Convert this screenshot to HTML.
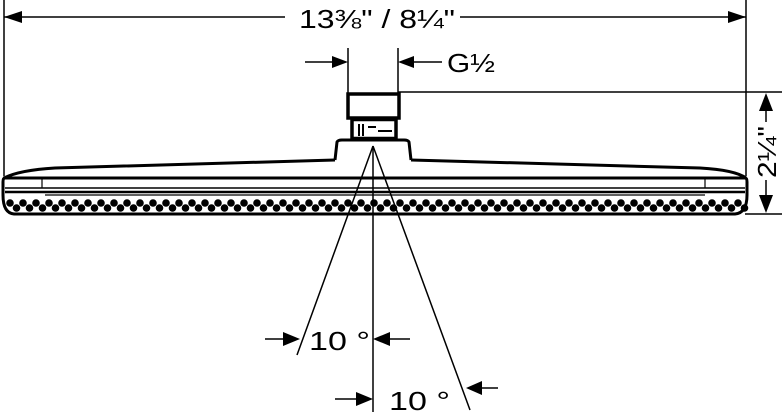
<!DOCTYPE html>
<html><head><style>html,body{margin:0;padding:0;background:#fff}svg{display:block}</style></head>
<body>
<svg width="783" height="418" viewBox="0 0 783 418" xmlns="http://www.w3.org/2000/svg" font-family="'Liberation Sans', sans-serif">
<g stroke="#000" fill="none">
<line x1="4" y1="0" x2="4" y2="176" stroke-width="1.5"/>
<line x1="746" y1="0" x2="746" y2="176" stroke-width="1.5"/>
<line x1="4" y1="17" x2="285" y2="17" stroke-width="1.5"/>
<line x1="460" y1="17" x2="746" y2="17" stroke-width="1.5"/>
<line x1="348" y1="48" x2="348" y2="94" stroke-width="1.5"/>
<line x1="398" y1="48" x2="398" y2="94" stroke-width="1.5"/>
<line x1="305" y1="62" x2="340" y2="62" stroke-width="1.5"/>
<line x1="405" y1="62" x2="442" y2="62" stroke-width="1.5"/>
<line x1="398" y1="92" x2="782" y2="92" stroke-width="1.5"/>
<line x1="745" y1="214" x2="782" y2="214" stroke-width="1.5"/>
<line x1="766" y1="100" x2="766" y2="122" stroke-width="1.5"/>
<line x1="766" y1="180" x2="766" y2="206" stroke-width="1.5"/>
<rect x="348" y="94" width="51" height="24" stroke-width="3.5"/>
<path d="M352 118 V140 M396 118 V140" stroke-width="3.5"/>
<path d="M352 120 H396 M352 138 H396" stroke-width="2.5"/>
<path d="M359 124 V136 M363 124 V136 M368 127 H376 M378 131 H392" stroke-width="2"/>
<path d="M335 160 L337 142 Q338 140 342 140 L404 140 Q408 140 409 142 L411 160" stroke-width="3"/>
<path d="M4 178 Q20 170 55 168 L335 160 M411 160 L700 168 Q735 170 746 178" stroke-width="3"/>
<path d="M3 178 H745 Q747 178 747 182 V195 Q747 213 735 214 H14 Q3 213 3 195 V182 Q3 178 5 178" stroke-width="3"/>
<line x1="5" y1="188" x2="745" y2="188" stroke-width="1.5"/>
<line x1="42" y1="178" x2="42" y2="188" stroke-width="1.2"/>
<line x1="705" y1="178" x2="705" y2="188" stroke-width="1.2"/>
<line x1="5" y1="192" x2="745" y2="192" stroke-width="2.5"/>
<line x1="45" y1="195" x2="705" y2="195" stroke-width="1.2"/>
<line x1="373" y1="146" x2="373" y2="412" stroke-width="1.5"/>
<line x1="373" y1="146" x2="297" y2="355" stroke-width="1.5"/>
<line x1="373" y1="146" x2="470" y2="410" stroke-width="1.5"/>
<line x1="265" y1="339" x2="285" y2="339" stroke-width="1.5"/>
<line x1="385" y1="339" x2="410" y2="339" stroke-width="1.5"/>
<line x1="335" y1="399" x2="360" y2="399" stroke-width="1.5"/>
<line x1="482" y1="388" x2="498" y2="388" stroke-width="1.5"/>
</g>
<g fill="#000">
<polygon points="4,17 22,11 22,23"/>
<polygon points="746,17 728,11 728,23"/>
<polygon points="348,62 332,56 332,68"/>
<polygon points="398,62 414,56 414,68"/>
<polygon points="766,93 759,111 773,111"/>
<polygon points="766,213 759,195 773,195"/>
<polygon points="300,339 283,332 283,346"/>
<polygon points="373,339 390,332 390,346"/>
<polygon points="373,399 356,392 356,406"/>
<polygon points="466,388 482,381 482,395"/>
<g id="dots"></g>
</g>
<g font-size="26" fill="#000">
<text x="299" y="28" textLength="156" lengthAdjust="spacingAndGlyphs">13⅜" / 8¼"</text>
<text x="447" y="72" textLength="48" lengthAdjust="spacingAndGlyphs">G½</text>
<text x="309" y="350" textLength="61" lengthAdjust="spacingAndGlyphs">10 °</text>
<text x="389" y="410" textLength="61" lengthAdjust="spacingAndGlyphs">10 °</text>
<text transform="translate(776,152) rotate(-90)" text-anchor="middle" textLength="52" lengthAdjust="spacingAndGlyphs">2¼"</text>
</g>
</svg>
<script>
var g=document.getElementById('dots'),s='';
for(var x=10;x<742;x+=13){s+='<circle cx="'+x+'" cy="203" r="3.8"/>';s+='<circle cx="'+(x+6.5)+'" cy="208" r="3.8"/>';}
g.innerHTML=s;
</script>
</body></html>
